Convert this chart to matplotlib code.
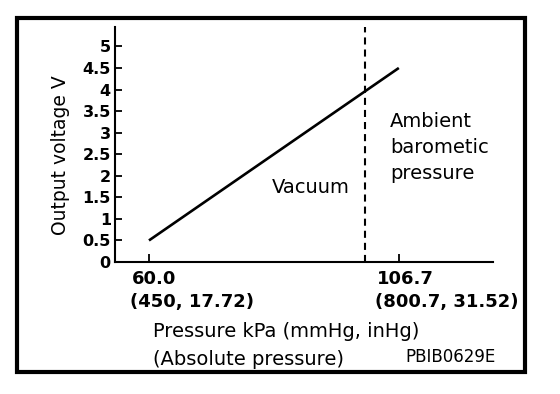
import matplotlib.pyplot as plt
from matplotlib.patches import Rectangle

plt.rcParams['font.family'] = ['DejaVu Sans']

# chart data
pressure_kpa = [60.0, 106.7]
output_voltage = [0.5, 4.5]
ambient_kpa = 100.3

xtick_values = [60.0, 106.7]
xtick_main = ["60.0", "106.7"]
xtick_sub = ["(450, 17.72)", "(800.7, 31.52)"]
ytick_values = [0, 0.5, 1, 1.5, 2, 2.5, 3, 3.5, 4, 4.5, 5]
ytick_labels = ["0", "0.5", "1", "1.5", "2", "2.5", "3", "3.5", "4", "4.5", "5"]

W, H = 560, 394
fig = plt.figure(figsize=(W / 100, H / 100), dpi=100)

# axes placed in pixel terms
ax_l, ax_r, ax_t, ax_b = 115, 493, 27, 262
ax = fig.add_axes([ax_l / W, 1 - ax_b / H, (ax_r - ax_l) / W, (ax_b - ax_t) / H])

ax.plot(pressure_kpa, output_voltage, color='black', lw=1.9, solid_capstyle='butt')
ax.axvline(ambient_kpa, color='black', lw=1.5, dashes=(3.4, 2.4))

ax.set_xlim(53.65, 124.3)
ax.set_ylim(0, 5.45)

for side in ['top', 'right']:
    ax.spines[side].set_visible(False)
for side in ['left', 'bottom']:
    ax.spines[side].set_linewidth(1.5)

ax.set_yticks(ytick_values)
ax.set_yticklabels(ytick_labels, fontsize=11.5, fontweight='bold')
ax.tick_params(axis='y', direction='in', length=5, width=1.3, pad=3)
ax.set_xticks(xtick_values)
ax.set_xticklabels([])
ax.tick_params(axis='x', direction='in', length=6, width=1.3)

# two-line x tick labels, nudged by hand like the original drawing
main_dx = [-17, -22]
sub_dx = [-19, -24]
for x, m, s, dm, ds in zip(xtick_values, xtick_main, xtick_sub, main_dx, sub_dx):
    ax.annotate(m, xy=(x, 0), xycoords=('data', 'axes fraction'),
                xytext=(dm * 0.72, -22 * 0.72), textcoords='offset points',
                ha='left', va='baseline', fontsize=13, fontweight='bold')
    ax.annotate(s, xy=(x, 0), xycoords=('data', 'axes fraction'),
                xytext=(ds * 0.72, -45 * 0.72), textcoords='offset points',
                ha='left', va='baseline', fontsize=13, fontweight='bold')

def px(x, y):
    return x / W, 1 - y / H

fig.text(*px(61, 155), "Output voltage V", rotation=90, ha='center', va='center', fontsize=13.5)
fig.text(*px(153, 337), "Pressure kPa (mmHg, inHg)", ha='left', va='baseline', fontsize=14)
fig.text(*px(153, 365), "(Absolute pressure)", ha='left', va='baseline', fontsize=14)
fig.text(*px(405, 362), "PBIB0629E", ha='left', va='baseline', fontsize=12)
fig.text(*px(272, 193), "Vacuum", ha='left', va='baseline', fontsize=14)
for i, line in enumerate(["Ambient", "barometic", "pressure"]):
    fig.text(*px(390, 127 + 26 * i), line, ha='left', va='baseline', fontsize=14)

# thick outer frame
fig.patches.append(Rectangle((17 / W, 1 - 372 / H), (525 - 17) / W, (372 - 18) / H,
                             transform=fig.transFigure, fill=False, lw=3, ec='black'))

fig.savefig("out.png", dpi=100)
